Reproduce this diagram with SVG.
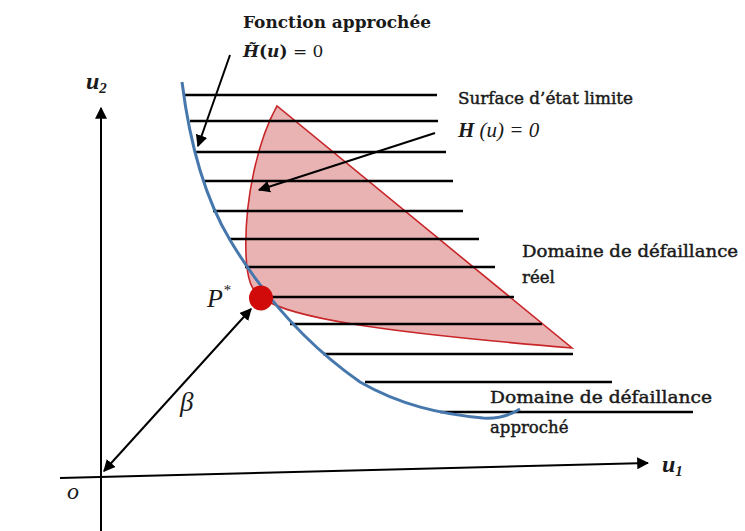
<svg xmlns="http://www.w3.org/2000/svg" width="745" height="531" viewBox="0 0 745 531">
<style>
.lbl{font-family:"DejaVu Serif","Liberation Serif",serif;fill:#1a1a1a;}
.tm{font-family:"Liberation Serif","DejaVu Serif",serif;fill:#1a1a1a;}
.b{font-weight:bold;}
.i{font-style:italic;}
.s{stroke:#1a1a1a;stroke-width:0.45;}
.hat{stroke:#000;stroke-width:2.6;}
.arr{stroke:#000;stroke-width:2;fill:none;}
</style>
<defs>
<marker id="ah" viewBox="0 0 10 10" refX="9" refY="5" markerWidth="6" markerHeight="6" orient="auto-start-reverse" markerUnits="strokeWidth">
<path d="M0,0 L10,5 L0,10 Z" fill="#000"/>
</marker>
</defs>
<rect width="745" height="531" fill="#fff"/>

<g id="failure-real">
<path d="M277,106 C258,140 244,200 246,255 C247,280 252,292 262,298 C290,318 380,332 572,348 Z" fill="#e9b3b3" stroke="#c8272a" stroke-width="1.6"/>
</g>

<g id="hatching">
<line class="hat" x1="185" y1="95" x2="437" y2="95"/>
<line class="hat" x1="190" y1="121" x2="438" y2="121"/>
<line class="hat" x1="196" y1="152" x2="446" y2="152"/>
<line class="hat" x1="203" y1="181" x2="453" y2="181"/>
<line class="hat" x1="213" y1="211" x2="463" y2="211"/>
<line class="hat" x1="230" y1="239" x2="479" y2="239"/>
<line class="hat" x1="245" y1="267" x2="495" y2="267"/>
<line class="hat" x1="263" y1="297" x2="514" y2="297"/>
<line class="hat" x1="290" y1="324" x2="542" y2="324"/>
<line class="hat" x1="323" y1="354" x2="573" y2="354"/>
<line class="hat" x1="365" y1="382" x2="612" y2="382"/>
<line class="hat" x1="440" y1="412" x2="693" y2="412"/>
</g>

<g id="approx-function">
<path d="M182,82 C188,130 200,190 230,240 C260,290 300,340 360,382 C400,405 440,414 483,418 C500,419 512,414 520,409" fill="none" stroke="#4677ad" stroke-width="3"/>
</g>

<g id="point-P">
<ellipse cx="261" cy="298" rx="12" ry="12.5" fill="#d10a0a"/>
</g>

<g id="connectors">
<line x1="101" y1="531" x2="101" y2="108" stroke="#000" stroke-width="2" marker-end="url(#ah)"/>
<line x1="60" y1="478" x2="648" y2="463" stroke="#000" stroke-width="2" marker-end="url(#ah)"/>
<line class="arr" x1="104" y1="471" x2="251" y2="309" marker-start="url(#ah)" marker-end="url(#ah)"/>
<line class="arr" x1="230" y1="55" x2="198" y2="146" marker-end="url(#ah)"/>
<line class="arr" x1="435" y1="133" x2="259" y2="190" marker-end="url(#ah)"/>
</g>

<g id="labels">
<text class="lbl b" x="243" y="28" font-size="16.5" textLength="188" lengthAdjust="spacingAndGlyphs">Fonction  approchée</text>
<text class="lbl" x="243" y="57" font-size="17"><tspan class="b i">H̃</tspan><tspan class="b">(</tspan><tspan class="b i">u</tspan><tspan class="b">)</tspan> = 0</text>
<text class="lbl s" x="458" y="104" font-size="16.5" textLength="175" lengthAdjust="spacingAndGlyphs">Surface d’état limite</text>
<text class="tm i" x="458" y="137" font-size="21"><tspan class="b">H</tspan> (u) = 0</text>
<text class="lbl s" x="522" y="257" font-size="16.5" textLength="216" lengthAdjust="spacingAndGlyphs">Domaine de défaillance</text>
<text class="lbl s" x="522" y="283" font-size="16.5">réel</text>
<text class="lbl s" x="490" y="403" font-size="16.5" textLength="222" lengthAdjust="spacingAndGlyphs">Domaine de défaillance</text>
<text class="lbl s" x="490" y="433" font-size="16.5">approché</text>
<text class="tm i" x="207" y="307" font-size="26">P<tspan font-size="15" dy="-12">*</tspan></text>
<text class="tm i" x="180" y="411" font-size="27">β</text>
<text class="tm i" x="67" y="499" font-size="24">o</text>
<text class="tm b i" x="86" y="89" font-size="24">u<tspan font-size="15" dy="4">2</tspan></text>
<text class="tm b i" x="662" y="472" font-size="24">u<tspan font-size="15" dy="4">1</tspan></text>
</g>
</svg>
